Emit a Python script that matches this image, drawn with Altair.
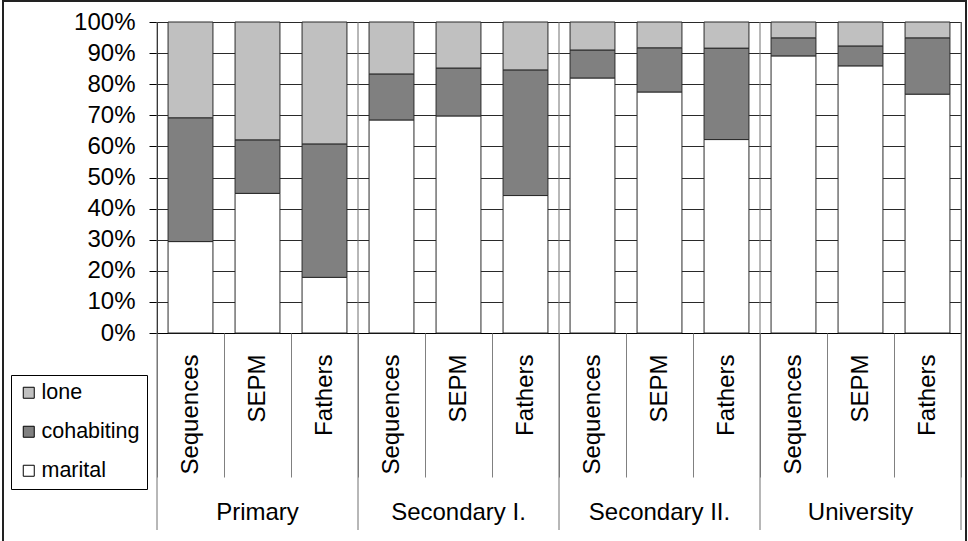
import altair as alt
import pandas as pd

groups = ["Primary", "Secondary I.", "Secondary II.", "University"]
series = ["Sequences", "SEPM", "Fathers"]
components = ["lone", "cohabiting", "marital"]
colors = ["#C0C0C0", "#808080", "#FFFFFF"]
stack_order = {"marital": 0, "cohabiting": 1, "lone": 2}

marital = [29.4, 44.9, 17.9, 68.5, 69.8, 44.2, 82.0, 77.5, 62.2, 89.1, 85.9, 76.8]
cohabiting = [39.8, 17.2, 42.9, 14.8, 15.4, 40.4, 9.0, 14.2, 29.4, 5.8, 6.4, 18.1]
lone = [30.8, 37.9, 39.2, 16.7, 14.8, 15.4, 9.0, 8.3, 8.4, 5.1, 7.7, 5.1]
y_ticks = list(range(0, 101, 10))

slots = [f"{g}|{s}" for g in groups for s in series]
rows = []
for gi, g in enumerate(groups):
    for si, s in enumerate(series):
        i = gi * 3 + si
        for comp, vals in (("marital", marital), ("cohabiting", cohabiting), ("lone", lone)):
            rows.append({"slot": slots[i], "group": g, "series": s, "component": comp,
                         "value": vals[i], "ord": stack_order[comp]})
df = pd.DataFrame(rows)

FONT = "Liberation Sans"
W, H = 804, 311

xscale = alt.Scale(paddingInner=0, paddingOuter=0)

bars = alt.Chart(df).mark_bar(stroke="#2a2a2a", strokeWidth=1, width=alt.RelativeBandSize(0.67)).encode(
    x=alt.X("slot:N", sort=slots, scale=xscale, title=None,
            axis=alt.Axis(orient="bottom", labelExpr="split(datum.value,'|')[1]",
                          labelAngle=-90, labelPadding=21, labelFont=FONT, labelFontSize=24,
                          labelColor="black", ticks=False, domainColor="black", domainWidth=1,
                          grid=False, labelOverlap=False, labelBound=False)),
    y=alt.Y("value:Q", stack="zero", scale=alt.Scale(domain=[0, 100], nice=False), title=None,
            axis=alt.Axis(values=y_ticks, labelExpr="datum.value + '%'", tickSize=8,
                          tickColor="black", domainColor="black", gridColor="#2a2a2a",
                          labelFont=FONT, labelFontSize=24, labelColor="black", labelPadding=14)),
    color=alt.Color("component:N", scale=alt.Scale(domain=components, range=colors),
                    legend=alt.Legend(title=None, orient="none", legendX=-146, legendY=353,
                                      strokeColor="black", padding=7, symbolType="square",
                                      symbolSize=121, symbolStrokeColor="black",
                                      symbolStrokeWidth=1, labelFont=FONT, labelFontSize=21.5,
                                      labelColor="black", rowPadding=16, labelOffset=2)),
    order=alt.Order("ord:Q"),
)

slot_ticks = alt.Chart(df).mark_point(opacity=0).encode(
    x=alt.X("slot:N", sort=slots, title=None,
            axis=alt.Axis(orient="bottom", labels=False, domain=False, ticks=True,
                          tickBand="extent", tickSize=144, tickColor="#808080", grid=False))
)

group_labels = alt.Chart(df).mark_point(opacity=0).encode(
    x=alt.X("slot:N", sort=slots, title=None,
            axis=alt.Axis(orient="bottom", domain=False, ticks=False, grid=False,
                          labelExpr="split(datum.value,'|')[1] == 'SEPM' ? split(datum.value,'|')[0] : ''",
                          labelAngle=0, labelPadding=167, labelBaseline="top", labelFont=FONT,
                          labelFontSize=24, labelColor="black", labelOverlap=False,
                          labelLimit=300, labelBound=False))
)

dividers_start = alt.Chart(df).transform_filter(
    "datum.series == 'Sequences' && datum.component == 'marital'"
).mark_rule(color="#707070", strokeWidth=1, clip=False).encode(
    x=alt.X("slot:N", sort=slots, bandPosition=0, axis=None),
    y=alt.value(0), y2=alt.value(H + 197),
)
divider_end = alt.Chart(df).transform_filter(
    f"datum.slot == '{slots[-1]}' && datum.component == 'marital'"
).mark_rule(color="#707070", strokeWidth=1, clip=False).encode(
    x=alt.X("slot:N", sort=slots, bandPosition=1, axis=None),
    y=alt.value(0), y2=alt.value(H + 197),
)

frame = alt.Chart(pd.DataFrame({"f": [0]})).mark_rect(
    fillOpacity=0, stroke="#222222", strokeWidth=2, clip=False
).encode(x=alt.value(-154), x2=alt.value(W + 5), y=alt.value(-21), y2=alt.value(H + 240))

chart = alt.layer(dividers_start, divider_end, bars, slot_ticks, group_labels, frame).resolve_axis(
    x="independent"
).properties(
    width=W, height=H,
    autosize=alt.AutoSizeParams(type="none"),
    padding={"left": 157, "top": 22, "right": 7, "bottom": 208},
).configure_view(stroke="#555555")

chart.save("out.html", embed_options={"renderer": "svg", "actions": False})
